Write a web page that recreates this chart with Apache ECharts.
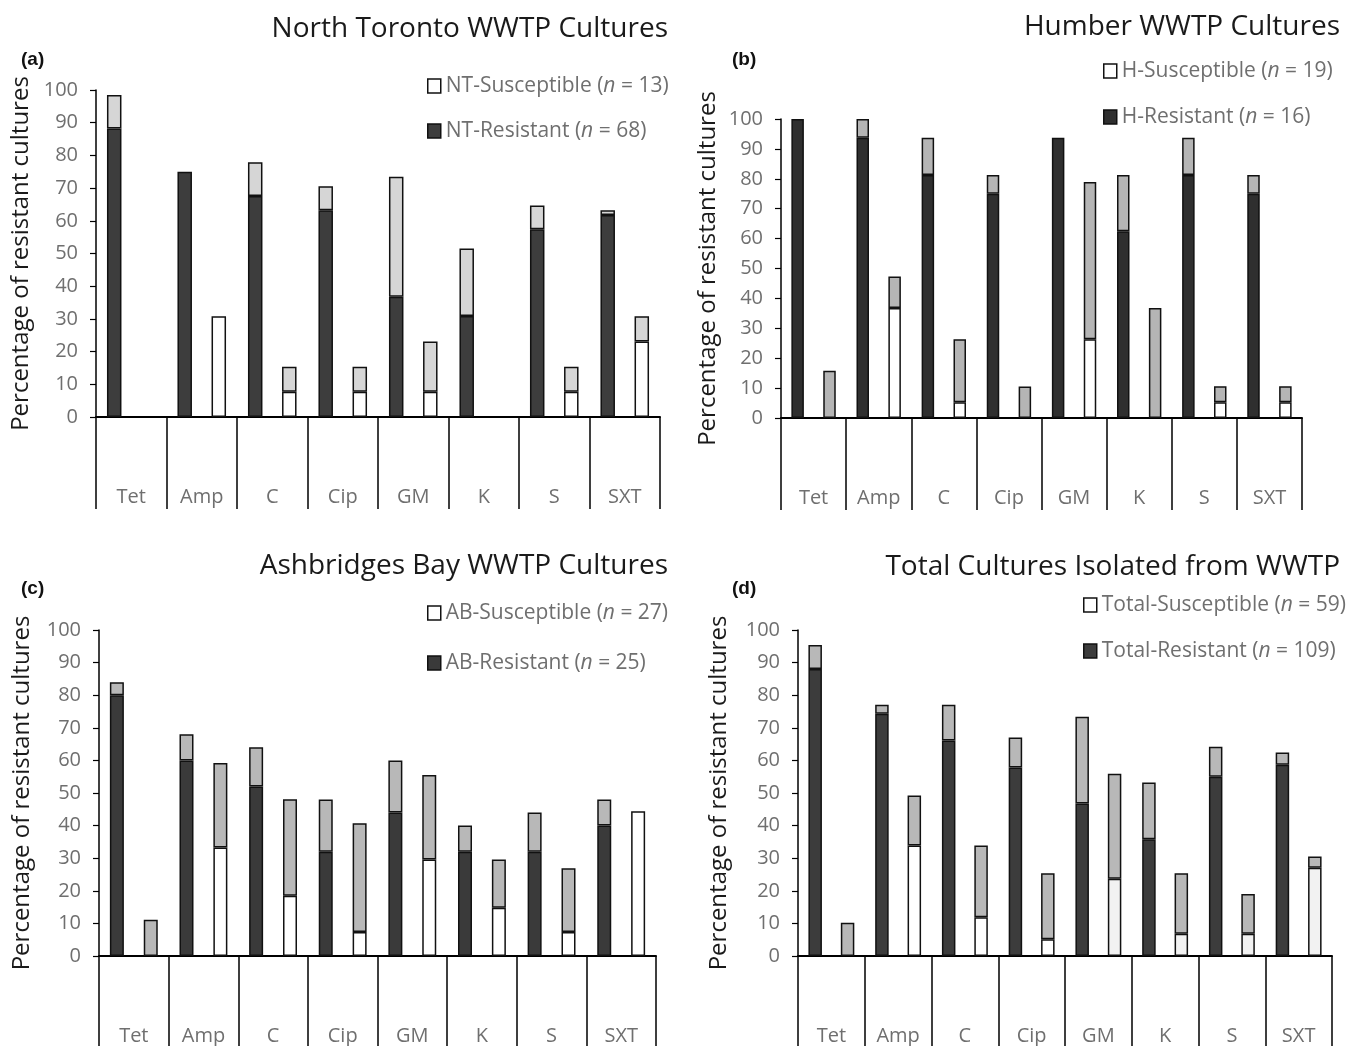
<!DOCTYPE html>
<html>
<head>
<meta charset="utf-8">
<script src="https://cdn.jsdelivr.net/npm/echarts@6/dist/echarts.min.js"></script>
<style>html,body{margin:0;padding:0;background:#fff}#c{width:1346px;height:1046px}</style>
</head>
<body>
<div id="c"></div>
<script>
// ---------- data ----------
const categories = ['Tet', 'Amp', 'C', 'Cip', 'GM', 'K', 'S', 'SXT'];
const panelTitles = ['North Toronto WWTP Cultures', 'Humber WWTP Cultures', 'Ashbridges Bay WWTP Cultures', 'Total Cultures Isolated from WWTP'];
const panelLetters = ['(a)', '(b)', '(c)', '(d)'];
const groupPrefix = ['NT', 'H', 'AB', 'Total'];
const susceptibleN = [13, 19, 27, 59];
const resistantN = [68, 16, 25, 109];
const yAxisName = 'Percentage of resistant cultures';

// North Toronto
const ntResBase = [88.2, 75.0, 67.6, 63.2, 36.8, 30.9, 57.4, 61.8];
const ntResTop  = [10.3, 0, 10.3, 7.4, 36.7, 20.6, 7.3, 1.4];
const ntSusBase = [0, 30.8, 7.7, 7.7, 7.7, 0, 7.7, 23.1];
const ntSusTop  = [0, 0, 7.7, 7.7, 15.4, 0, 7.7, 7.7];
// Humber
const hResBase = [100, 93.75, 81.25, 75, 93.75, 62.5, 81.25, 75];
const hResTop  = [0, 6.25, 12.5, 6.25, 0, 18.75, 12.5, 6.25];
const hSusBase = [0, 36.8, 5.3, 0, 26.3, 0, 5.3, 5.3];
const hSusTop  = [15.8, 10.5, 21.0, 10.5, 52.6, 36.8, 5.3, 5.3];
// Ashbridges Bay
const abResBase = [80, 60, 52, 32, 44, 32, 32, 40];
const abResTop  = [4, 8, 12, 16, 16, 8, 12, 8];
const abSusBase = [0, 33.3, 18.5, 7.4, 29.6, 14.8, 7.4, 44.4];
const abSusTop  = [11.1, 25.9, 29.6, 33.3, 25.9, 14.8, 19.5, 0];
// Total
const totResBase = [88.0, 74.3, 66.1, 57.8, 46.8, 35.8, 55.0, 58.7];
const totResTop  = [7.4, 2.8, 11.0, 9.2, 26.6, 17.4, 9.2, 3.7];
const totSusBase = [0, 33.9, 11.9, 5.1, 23.7, 6.8, 6.8, 27.1];
const totSusTop  = [10.2, 15.3, 22.0, 20.3, 32.2, 18.6, 12.2, 3.4];

const panelData = [
  [ntResBase, ntResTop, ntSusBase, ntSusTop],
  [hResBase, hResTop, hSusBase, hSusTop],
  [abResBase, abResTop, abSusBase, abSusTop],
  [totResBase, totResTop, totSusBase, totSusTop]
];

// ---------- layout / style ----------
const W = 1346, H = 1046;
const layout = [
  {left: 96,  top: 90,  width: 564, height: 327, barW: 14.5, gap: '135%', nameGap: 63, titleRight: 678, titleTop: 15, letterTop: 50, legLeft: 422, legTop: 70, legGap: 23, gray: '#d6d6d6', dark: '#3d3d3d'},
  {left: 781, top: 119, width: 521, height: 299, barW: 12.5, gap: '155%', nameGap: 61, titleRight: 6, titleTop: 13, letterTop: 50, legLeft: 1098, legTop: 55, legGap: 24, gray: '#b5b5b5', dark: '#2f2f2f'},
  {left: 99,  top: 630, width: 557, height: 326, barW: 14, gap: '142%', nameGap: 65, titleRight: 678, titleTop: 552, letterTop: 579, legLeft: 422, legTop: 597, legGap: 28, gray: '#b8b8b8', dark: '#3a3a3a'},
  {left: 798, top: 630, width: 534, height: 326, barW: 13.5, gap: '140%', nameGap: 67, titleRight: 6, titleTop: 553, letterTop: 579, legLeft: 1078, legTop: 589, legGap: 24, gray: '#b8b8b8', dark: '#3c3c3c'}
];
const tickFont = "'Open Sans', 'Noto Sans', sans-serif";
const labelGray = '#6f6f6f';
const nz = v => (v === 0 ? '-' : v);

const grid = [], xAxis = [], yAxis = [], series = [], title = [], legend = [];
layout.forEach((L, i) => {
  grid.push({left: L.left, top: L.top, width: L.width, height: L.height, containLabel: false});
  xAxis.push({
    type: 'category', gridIndex: i, data: categories, boundaryGap: true,
    axisLine: {show: true, lineStyle: {color: '#000', width: 2}},
    axisTick: {show: true, interval: 0, length: 92, alignWithLabel: false, lineStyle: {color: '#000', width: 1.5}},
    axisLabel: {interval: 0, margin: 70, color: labelGray, fontSize: 20, fontFamily: tickFont},
    splitLine: {show: false}
  });
  yAxis.push({
    type: 'value', gridIndex: i, min: 0, max: 100, interval: 10,
    axisLine: {show: true, lineStyle: {color: '#000', width: 1.5}},
    axisTick: {show: true, length: 6, lineStyle: {color: '#000', width: 1.2}},
    axisLabel: {color: labelGray, fontSize: 20, fontFamily: tickFont, margin: 18},
    splitLine: {show: false},
    name: yAxisName, nameLocation: 'middle', nameGap: L.nameGap,
    nameTextStyle: {fontSize: 24, color: '#1a1a1a', fontFamily: tickFont}
  });
  const [rb, rt, sb, st] = panelData[i];
  const border = {borderColor: '#111', borderWidth: 1.5};
  const resName = groupPrefix[i] + '-Resistant';
  const susName = groupPrefix[i] + '-Susceptible';
  series.push({
    name: resName, type: 'bar', xAxisIndex: i, yAxisIndex: i, stack: 'R' + i,
    barWidth: L.barW, barGap: L.gap, data: rb.map(nz),
    itemStyle: Object.assign({color: L.dark}, border)
  });
  series.push({
    name: resName + ' top', type: 'bar', xAxisIndex: i, yAxisIndex: i, stack: 'R' + i,
    barWidth: L.barW, barGap: L.gap, data: rt.map(nz),
    itemStyle: Object.assign({color: L.gray}, border)
  });
  series.push({
    name: susName, type: 'bar', xAxisIndex: i, yAxisIndex: i, stack: 'S' + i,
    barWidth: L.barW, barGap: L.gap,
    data: sb.map((v, k) => (i === 3 && k >= 4 && v !== 0) ? {value: v, itemStyle: {color: '#f2f2f2'}} : nz(v)),
    itemStyle: Object.assign({color: '#ffffff'}, border)
  });
  series.push({
    name: susName + ' top', type: 'bar', xAxisIndex: i, yAxisIndex: i, stack: 'S' + i,
    barWidth: L.barW, barGap: L.gap, data: st.map(nz),
    itemStyle: Object.assign({color: L.gray}, border)
  });
  title.push({
    text: panelTitles[i], right: L.titleRight, top: L.titleTop, padding: 0,
    textStyle: {fontSize: 28, fontWeight: 'normal', color: '#1a1a1a', fontFamily: tickFont}
  });
  title.push({
    text: panelLetters[i], left: (i % 2 === 0) ? 21 : 732, top: L.letterTop, padding: 0,
    textStyle: {fontSize: 19, fontWeight: 'bold', color: '#111', fontFamily: "'Liberation Sans', Arial, sans-serif"}
  });
  const nVals = {};
  nVals[susName] = susceptibleN[i];
  nVals[resName] = resistantN[i];
  legend.push({
    data: [susName, resName], orient: 'vertical', left: L.legLeft, top: L.legTop,
    itemGap: L.legGap, itemWidth: 13, itemHeight: 14, selectedMode: false, icon: 'rect',
    formatter: name => name + ' ({it|n} = ' + nVals[name] + ')',
    textStyle: {
      color: labelGray, fontSize: 21, fontFamily: tickFont, lineHeight: 22,
      rich: {it: {fontStyle: 'italic', color: labelGray, fontSize: 21, fontFamily: tickFont, lineHeight: 22}}
    },
    itemStyle: {borderColor: '#111', borderWidth: 1.5}
  });
});

const chart = echarts.init(document.getElementById('c'), null, {renderer: 'canvas', width: W, height: H});
chart.setOption({
  animation: false,
  backgroundColor: '#ffffff',
  title, legend, grid, xAxis, yAxis, series
});
</script>
</body>
</html>
